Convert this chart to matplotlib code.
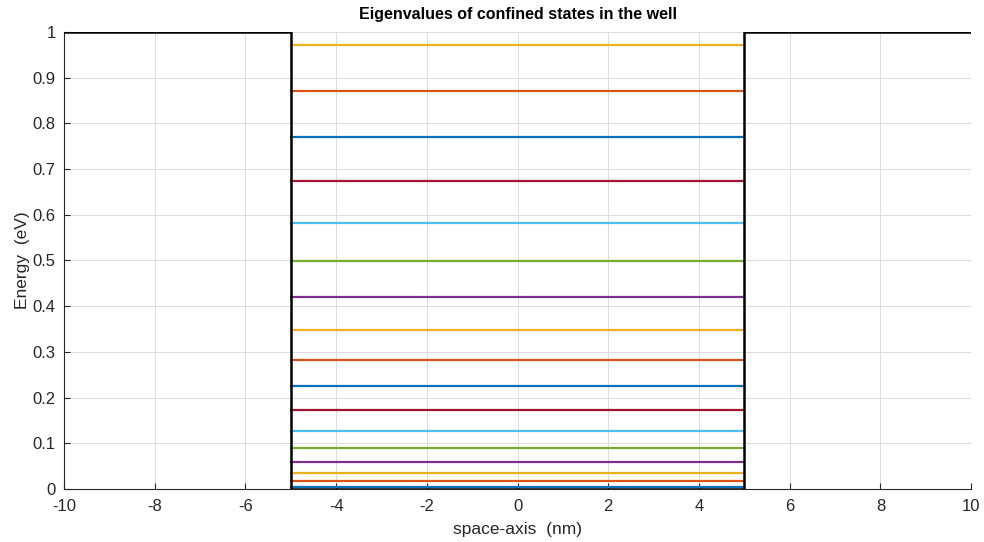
import numpy as np
import matplotlib.pyplot as plt

# potential profile (finite square well)
well_x = [-10, -5, -5, 5, 5, 10]
well_v = [1, 1, 0, 0, 1, 1]
well_left = -5
well_right = 5

# confined-state energies (eV), ground state first
energies = [0.004, 0.0175, 0.035, 0.059, 0.090, 0.127, 0.173, 0.225, 0.282,
            0.348, 0.420, 0.499, 0.582, 0.674, 0.770, 0.871, 0.972]

# MATLAB default colour order
colors = ['#0072BD', '#D95319', '#EDB120', '#7E2F8E', '#77AC30', '#4DBEEE', '#A2142F']

plt.rcParams['font.family'] = ['Liberation Sans', 'DejaVu Sans']
plt.rcParams['axes.unicode_minus'] = False

fig = plt.figure(figsize=(9.84, 5.42), dpi=100)
ax = fig.add_axes([0.065, 0.098, 0.922, 0.843])

ax.plot(well_x, well_v, color='black', lw=1.8, zorder=3)
for i, e in enumerate(energies):
    ax.plot([well_left, well_right], [e, e], color=colors[i % len(colors)], lw=1.6, zorder=2)

ax.set_xlim(-10, 10)
ax.set_ylim(0, 1)
ax.set_xticks(np.arange(-10, 11, 2))
ax.set_yticks(np.arange(0, 1.01, 0.1))
ax.set_yticklabels(['0', '0.1', '0.2', '0.3', '0.4', '0.5', '0.6', '0.7', '0.8', '0.9', '1'])
ax.grid(True, color='#dcdcdc', lw=0.7)
ax.set_axisbelow(True)
ax.tick_params(direction='in', length=4, color='#262626', labelcolor='#262626', labelsize=12)
ax.tick_params(axis='x', pad=7)
ax.tick_params(axis='y', pad=6)
for s in ax.spines.values():
    s.set_color('#262626')
    s.set_linewidth(0.8)
ax.spines['top'].set_visible(False)
ax.spines['right'].set_visible(False)

ax.set_title('Eigenvalues of confined states in the well', fontsize=11.5, fontweight='bold', pad=9)
ax.set_xlabel('space-axis  (nm)', fontsize=12.5, color='#262626', labelpad=6)
ax.set_ylabel('Energy  (eV)', fontsize=12.5, color='#262626', labelpad=2)

fig.savefig('out.png', dpi=100)
